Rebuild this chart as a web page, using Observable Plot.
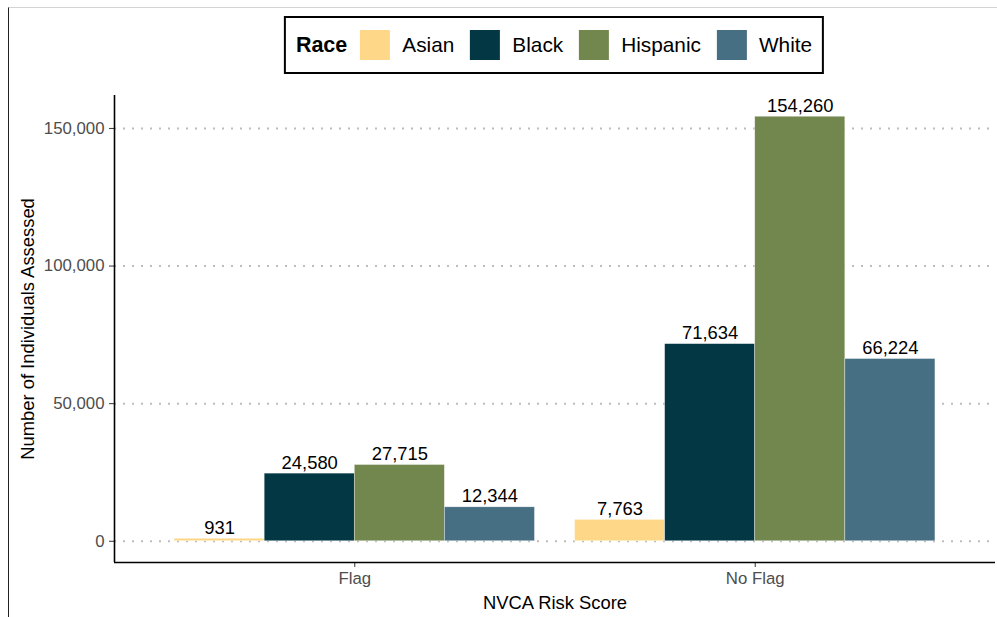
<!DOCTYPE html>
<html>
<head>
<meta charset="utf-8">
<script src="https://cdn.jsdelivr.net/npm/d3@7"></script>
<script src="https://cdn.jsdelivr.net/npm/@observablehq/plot@0.6"></script>
<style>
  html, body { margin: 0; padding: 0; background: #fff; }
  #wrap { position: relative; width: 997px; height: 617px; overflow: hidden; font-family: "Liberation Sans", Arial, sans-serif; }
  #frame { position: absolute; left: 8px; top: 7px; right: -2px; bottom: -2px; border-top: 1px solid #d3d3d3; border-left: 1px solid #222; pointer-events: none; }
  #legend { position: absolute; top: 16px; left: 554px; transform: translateX(-50%); display: flex; align-items: center;
    border: 2px solid #000; box-sizing: border-box; height: 58px; padding: 0 10px 0 10px; background: #fff; white-space: nowrap; }
  #legend .title { font-weight: bold; font-size: 21.5px; margin-right: 13px; }
  #legend .sw { width: 30px; height: 30px; margin-right: 12px; }
  #legend .lab { font-size: 20.8px; margin-right: 16px; }
  #legend .lab:last-child { margin-right: 0; }
  #chart { position: absolute; left: 0; top: 0; }
</style>
</head>
<body>
<div id="wrap">
  <div id="chart"></div>
  <div id="legend"></div>
  <div id="frame"></div>
</div>
<script>
// ---- data ----
const scores = ["Flag", "No Flag"];
const races = ["Asian", "Black", "Hispanic", "White"];
const asianValues = [931, 7763];
const blackValues = [24580, 71634];
const hispanicValues = [27715, 154260];
const whiteValues = [12344, 66224];
const colors = ["#FED789", "#023743", "#72874E", "#476F84"];
const yTicks = [0, 50000, 100000, 150000];

const seriesValues = [asianValues, blackValues, hispanicValues, whiteValues];

// dodge (like ggplot position_dodge, width 0.9) on a continuous x with categories at 1, 2
const dodgeWidth = 0.9;
const rows = [];
scores.forEach((s, si) => {
  races.forEach((r, ri) => {
    const w = dodgeWidth / races.length;
    const x1 = (si + 1) - dodgeWidth / 2 + ri * w;
    rows.push({score: s, race: r, value: seriesValues[ri][si], x1, x2: x1 + w, xm: x1 + w / 2});
  });
});

const maxV = d3.max(rows, d => d.value);
const yDom = [-0.05 * maxV, maxV * 1.05];
const xDom = [0.4, scores.length + 0.6];
const fmt = d3.format(",");

const plot = Plot.plot({
  width: 997,
  height: 617,
  marginTop: 95,
  marginBottom: 55,
  marginLeft: 114,
  marginRight: 2,
  style: {fontFamily: "'Liberation Sans', Arial, sans-serif", fontSize: "16px", background: "transparent"},
  x: {domain: xDom, axis: null},
  y: {domain: yDom, axis: null},
  color: {domain: races, range: colors},
  marks: [
    Plot.ruleY(yTicks, {x1: xDom[0], x2: xDom[1], stroke: "#bdbdbd", strokeWidth: 2, strokeDasharray: "2,7"}),
    Plot.rectY(rows, {x1: "x1", x2: "x2", y1: 0, y2: "value", fill: "race", stroke: "white", strokeWidth: 0.6, strokeOpacity: 0.6}),
    Plot.text(rows, {x: "xm", y: "value", text: d => fmt(d.value), fontSize: 18.4, fill: "#000", dy: -11}),
    Plot.axisY({ticks: yTicks, tickFormat: fmt, tickSize: 5, tickPadding: 5, fontSize: 16.8, color: "#4d4d4d",
      stroke: "#333", label: "Number of Individuals Assessed", labelAnchor: "center", labelArrow: "none", labelOffset: 94}),
    Plot.axisX({ticks: scores.map((s, i) => i + 1), tickFormat: d => scores[d - 1], tickSize: 5, tickPadding: 5, fontSize: 16.8,
      color: "#4d4d4d", stroke: "#333", label: "NVCA Risk Score", labelAnchor: "center", labelArrow: "none", labelOffset: 46}),
    Plot.ruleX([xDom[0]], {y1: yDom[0], y2: yDom[1], stroke: "#000", strokeWidth: 1.6}),
    Plot.ruleY([yDom[0]], {x1: xDom[0], x2: xDom[1], stroke: "#000", strokeWidth: 1.6})
  ]
});
// axis titles in black, larger
d3.select(plot).selectAll("[aria-label='y-axis label'] text, [aria-label='x-axis label'] text")
  .attr("fill", "#000").style("font-size", "18.4px");
document.getElementById("chart").appendChild(plot);

// legend
const lg = d3.select("#legend");
lg.append("span").attr("class", "title").text("Race");
races.forEach((r, i) => {
  lg.append("span").attr("class", "sw").style("background", colors[i]);
  lg.append("span").attr("class", "lab").text(r);
});
</script>
</body>
</html>
